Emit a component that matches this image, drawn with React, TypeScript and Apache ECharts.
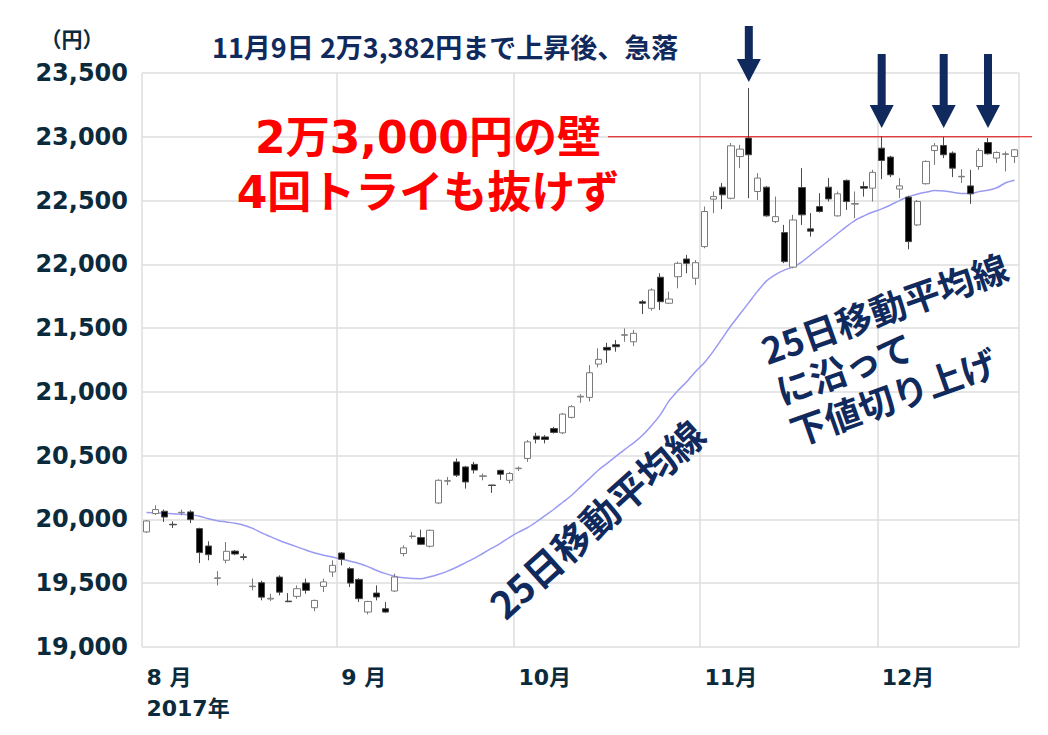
import React, { useEffect, useRef } from "react";
import * as echarts from "echarts";

// ---- trading days (2017) ----
const augDays = [1, 2, 3, 4, 7, 8, 9, 10, 14, 15, 16, 17, 18, 21, 22, 23, 24, 25, 28, 29, 30, 31];
const sepDays = [1, 4, 5, 6, 7, 8, 11, 12, 13, 14, 15, 19, 20, 21, 22, 25, 26, 27, 28, 29];
const octDays = [2, 3, 4, 5, 6, 10, 11, 12, 13, 16, 17, 18, 19, 20, 23, 24, 25, 26, 27, 30, 31];
const novDays = [1, 2, 6, 7, 8, 9, 10, 13, 14, 15, 16, 17, 20, 21, 22, 24, 27, 28, 29, 30];
const decDays = [1, 4, 5, 6, 7, 8, 11, 12, 13, 14, 15, 18, 19, 20, 21, 22];
const monthNums = [8, 9, 10, 11, 12];
const monthLabels = ["8 月", "9 月", "10月", "11月", "12月"];
const yearLabel = "2017年";

// ---- OHLC: [open, close, low, high] ----
const augOHLC = [
  [19902, 19988, 19895, 19995], [20046, 20077, 20035, 20111], [20064, 20019, 19980, 20077],
  [19962, 19958, 19933, 19985], [20052, 20056, 20033, 20077], [20059, 19999, 19972, 20072],
  [19928, 19740, 19658, 19935], [19792, 19724, 19680, 19829], [19538, 19542, 19483, 19595],
  [19680, 19750, 19656, 19823], [19752, 19729, 19720, 19760], [19707, 19703, 19680, 19732],
  [19473, 19477, 19444, 19538], [19504, 19391, 19366, 19520], [19376, 19382, 19360, 19418],
  [19548, 19430, 19405, 19562], [19360, 19355, 19352, 19423], [19397, 19457, 19379, 19483],
  [19502, 19444, 19418, 19536], [19308, 19365, 19281, 19372], [19475, 19510, 19431, 19536],
  [19588, 19640, 19549, 19680],
];
const sepOHLC = [
  [19737, 19688, 19640, 19745], [19614, 19501, 19470, 19627], [19530, 19379, 19352, 19540],
  [19274, 19357, 19256, 19362], [19423, 19392, 19366, 19483], [19300, 19274, 19268, 19352],
  [19439, 19549, 19431, 19575], [19733, 19777, 19711, 19797], [19866, 19870, 19850, 19902],
  [19858, 19805, 19800, 19920], [19790, 19915, 19780, 19920], [20129, 20307, 20120, 20315],
  [20300, 20304, 20268, 20333], [20451, 20347, 20333, 20478], [20412, 20294, 20242, 20420],
  [20432, 20387, 20360, 20451], [20338, 20342, 20307, 20360], [20270, 20266, 20208, 20272],
  [20385, 20354, 20310, 20390], [20307, 20360, 20282, 20373],
];
const octOHLC = [
  [20398, 20402, 20380, 20415], [20478, 20608, 20451, 20622], [20653, 20629, 20596, 20679],
  [20647, 20627, 20596, 20661], [20713, 20682, 20674, 20726], [20679, 20826, 20669, 20835],
  [20800, 20884, 20792, 20896], [20960, 20966, 20914, 20982], [20957, 21150, 20925, 21210],
  [21218, 21255, 21192, 21341], [21349, 21328, 21228, 21385], [21370, 21354, 21315, 21406],
  [21444, 21448, 21393, 21498], [21393, 21459, 21359, 21485], [21707, 21695, 21611, 21720],
  [21655, 21799, 21636, 21812], [21899, 21707, 21642, 21930], [21695, 21728, 21689, 21786],
  [21903, 22008, 21812, 22021], [22042, 22008, 21930, 22074], [21891, 22013, 21838, 22034],
];
const novOHLC = [
  [22139, 22414, 22126, 22453], [22511, 22531, 22401, 22571], [22605, 22545, 22433, 22637],
  [22518, 22929, 22510, 22951], [22845, 22903, 22754, 22937], [22990, 22859, 22519, 23382],
  [22571, 22676, 22505, 22715], [22605, 22380, 22374, 22612], [22335, 22374, 22323, 22531],
  [22249, 22021, 22009, 22309], [21978, 22348, 21969, 22388], [22602, 22388, 22309, 22754],
  [22278, 22260, 22217, 22401], [22453, 22414, 22406, 22558], [22605, 22513, 22493, 22676],
  [22380, 22553, 22374, 22571], [22658, 22492, 22427, 22665], [22472, 22476, 22362, 22571],
  [22610, 22597, 22531, 22649], [22597, 22721, 22493, 22741],
];
const decOHLC = [
  [22911, 22814, 22668, 23003], [22841, 22702, 22684, 22851], [22590, 22615, 22519, 22676],
  [22527, 22178, 22118, 22537], [22309, 22493, 22301, 22505], [22632, 22807, 22625, 22815],
  [22892, 22929, 22780, 22951], [22932, 22859, 22833, 22998], [22872, 22754, 22684, 22885],
  [22686, 22690, 22637, 22746], [22615, 22553, 22474, 22741], [22767, 22892, 22741, 22911],
  [22955, 22867, 22860, 22990], [22833, 22877, 22794, 22885], [22862, 22866, 22728, 22885],
  [22845, 22898, 22794, 22905],
];

// ---- 25-day moving average ----
const ma25Aug = [20055, 20052, 20048, 20045, 20040, 20036, 20025, 20005, 19990, 19980, 19970, 19955, 19930, 19895, 19865, 19835, 19810, 19785, 19760, 19737, 19720, 19705];
const ma25Sep = [19690, 19672, 19655, 19630, 19600, 19575, 19555, 19542, 19537, 19536, 19550, 19570, 19595, 19625, 19660, 19695, 19735, 19775, 19815, 19860];
const ma25Oct = [19900, 19935, 19980, 20030, 20080, 20135, 20190, 20255, 20320, 20386, 20440, 20495, 20550, 20600, 20660, 20735, 20820, 20930, 21010, 21080, 21160];
const ma25Nov = [21230, 21320, 21420, 21520, 21610, 21700, 21790, 21870, 21920, 21955, 21980, 22020, 22075, 22130, 22185, 22240, 22295, 22345, 22380, 22410];
const ma25Dec = [22435, 22465, 22500, 22530, 22550, 22565, 22578, 22575, 22565, 22555, 22555, 22570, 22580, 22600, 22640, 22660];

// ---- axis ----
const yMin = 19000;
const yMax = 23500;
const yStep = 500;

// ---- annotations ----
const unitText = "（円）";
const titleText = "11月9日 2万3,382円まで上昇後、急落";
const wallLines = ["2万3,000円の壁", "4回トライも抜けず"];
const wallLevel = 23000;
const maLabel = "25日移動平均線";
const supportText = "25日移動平均線\nに沿って\n下値切り上げ";
const arrowIdx = [68, 83, 90, 95];

const navy = "#102a5e";
const axisColor = "#0b2b3d";
const gridColor = "#dedede";
const latin = '"DejaVu Sans", "Noto Sans CJK JP", sans-serif';
const cjk = '"Noto Sans CJK JP", sans-serif';

const allDays = [augDays, sepDays, octDays, novDays, decDays];
const categories: string[] = [];
const monthStart: number[] = [];
allDays.forEach((days, mi) => {
  monthStart.push(categories.length);
  days.forEach((d) => categories.push(`2017/${monthNums[mi]}/${d}`));
});
const ohlc = [...augOHLC, ...sepOHLC, ...octOHLC, ...novOHLC, ...decOHLC];
const ma25 = [...ma25Aug, ...ma25Sep, ...ma25Oct, ...ma25Nov, ...ma25Dec];

export default function App() {
  const ref = useRef<HTMLDivElement>(null);
  useEffect(() => {
    const chart = echarts.init(ref.current!, null, { renderer: "svg" });
    const isStart = (idx: number) => monthStart.indexOf(idx) >= 0;
    chart.setOption({
      animation: false,
      backgroundColor: "#ffffff",
      grid: { left: 142, right: 29, top: 73, bottom: 88 },
      xAxis: {
        type: "category",
        data: categories,
        boundaryGap: true,
        axisLine: { show: false },
        axisTick: { show: false },
        splitLine: {
          show: true,
          interval: (idx: number) => isStart(idx),
          lineStyle: { color: gridColor, width: 1.5 },
        },
        axisLabel: {
          interval: (idx: number) => isStart(idx),
          formatter: (_v: string, idx: number) => {
            const m = monthStart.indexOf(idx);
            if (m < 0) return "";
            return m === 0 ? `${monthLabels[m]}\n${yearLabel}` : monthLabels[m];
          },
          align: "left",
          margin: 15,
          lineHeight: 31,
          color: axisColor,
          fontSize: 22,
          fontWeight: "bold",
          fontFamily: latin,
        },
      },
      yAxis: {
        type: "value",
        min: yMin,
        max: yMax,
        interval: yStep,
        axisLine: { show: false },
        axisTick: { show: false },
        splitLine: { lineStyle: { color: gridColor, width: 1.5 } },
        axisLabel: {
          formatter: (v: number) => v.toLocaleString("en-US"),
          margin: 14,
          color: axisColor,
          fontSize: 24,
          fontWeight: "bold",
          fontFamily: latin,
        },
      },
      series: [
        {
          type: "line",
          data: ma25,
          symbol: "none",
          smooth: 0.3,
          z: 1,
          lineStyle: { color: "#9a9af2", width: 1.5 },
        },
        {
          type: "candlestick",
          data: ohlc,
          barWidth: "76%",
          z: 3,
          itemStyle: {
            color: "#ffffff",
            color0: "#000000",
            borderColor: "#7a7a7a",
            borderColor0: "#4a4a4a",
            borderWidth: 1,
          },
        },
      ],
    });

    const yWall = chart.convertToPixel({ yAxisIndex: 0 }, wallLevel) as number;
    const ax = arrowIdx.map((i) => chart.convertToPixel({ xAxisIndex: 0 }, categories[i]) as number);
    const arrow = (x: number, top: number, headTop: number, tip: number) => ({
      type: "polygon",
      z: 20,
      shape: {
        points: [
          [x - 4, top], [x + 4, top], [x + 4, headTop], [x + 12, headTop],
          [x, tip], [x - 12, headTop], [x - 4, headTop],
        ],
      },
      style: { fill: navy },
    });
    const txt = (o: any) => ({
      type: "text",
      z: 30,
      x: o.x,
      y: o.y,
      rotation: o.rot || 0,
      style: {
        text: o.text,
        fill: o.fill,
        font: o.font,
        align: o.align,
        verticalAlign: o.va,
        textAlign: o.align,
        textVerticalAlign: o.va,
        lineHeight: o.lh,
      },
    });

    chart.setOption({
      graphic: [
        {
          type: "line",
          z: 15,
          shape: { x1: 608, y1: yWall, x2: 1032, y2: yWall },
          style: { stroke: "#e00000", lineWidth: 1 },
        },
        arrow(ax[0], 26, 59, 82),
        arrow(ax[1], 54, 105, 128),
        arrow(ax[2], 54, 105, 128),
        arrow(ax[3], 54, 105, 128),
        txt({ x: 72, y: 38, text: unitText, fill: axisColor, font: `bold 21px ${cjk}`, align: "center", va: "middle" }),
        txt({ x: 212, y: 46, text: titleText, fill: navy, font: `bold 27px ${cjk}`, align: "left", va: "middle" }),
        txt({ x: 428, y: 137, text: wallLines[0], fill: "#ff0000", font: `bold 44px ${latin}`, align: "center", va: "middle" }),
        txt({ x: 428, y: 192, text: wallLines[1], fill: "#ff0000", font: `bold 44px ${latin}`, align: "center", va: "middle" }),
        txt({ x: 596, y: 518, rot: (42 * Math.PI) / 180, text: maLabel, fill: navy, font: `bold 38px ${cjk}`, align: "center", va: "middle" }),
        txt({ x: 755, y: 330, rot: (19.5 * Math.PI) / 180, text: supportText, fill: navy, font: `bold 36px ${cjk}`, align: "left", va: "top", lh: 43 }),
      ],
    });
    return () => chart.dispose();
  }, []);
  return <div ref={ref} style={{ position: "absolute", left: 0, top: 0, width: 1048, height: 735 }} />;
}
